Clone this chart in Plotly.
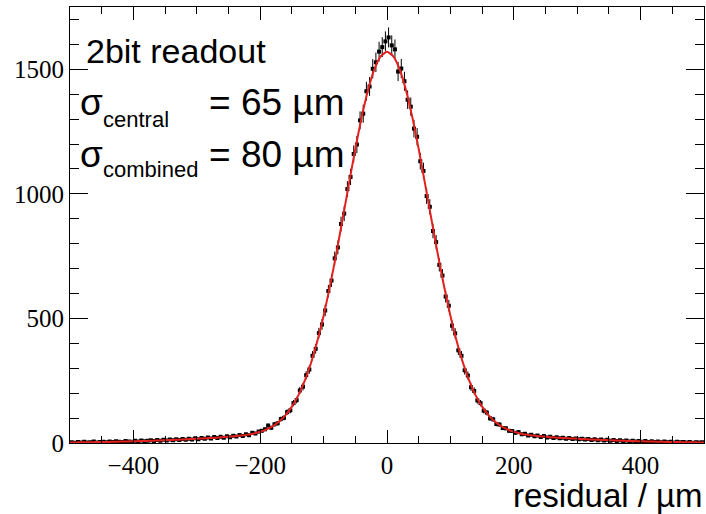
import numpy as np
import plotly.graph_objects as go

# ---------------- data ----------------
BIN_LOW = -500.0
BIN_WIDTH = 5.0

# histogram counts, bins of 5 um from -500 to 500 (200 bins)
counts_neg = [
    3, 1, 4, 2, 5, 2, 3, 6, 2, 4, 5, 3, 6, 4, 7, 5, 4, 8, 6, 5,
    9, 6, 10, 7, 9, 11, 8, 12, 9, 13, 10, 14, 11, 15, 12, 16, 13, 17, 14, 19,
    15, 20, 17, 22, 18, 24, 20, 25, 21, 27, 23, 29, 26, 32, 28, 35, 31, 41, 38, 46,
    49, 55, 70, 61, 75, 79, 96, 101, 124, 131, 160, 172, 211, 226, 272, 295, 350, 378, 441, 476,
    532, 610, 652, 741, 785, 879, 921, 1019, 1068, 1160, 1198, 1295, 1322, 1412, 1431, 1502, 1528, 1571, 1589, 1612,
]
counts_pos = [
    1628, 1596, 1580, 1491, 1503, 1452, 1378, 1350, 1262, 1229, 1131, 1092, 991, 948, 851, 806, 715, 672, 588, 551,
    471, 440, 372, 350, 292, 271, 224, 209, 171, 160, 130, 122, 99, 95, 76, 74, 60, 59, 49, 48,
    41, 44, 35, 37, 30, 33, 27, 30, 24, 28, 22, 25, 20, 23, 19, 21, 17, 20, 16, 18,
    15, 17, 14, 16, 12, 15, 11, 14, 10, 13, 9, 12, 8, 11, 7, 10, 6, 9, 6, 8,
    5, 8, 4, 7, 4, 6, 3, 6, 3, 5, 2, 5, 3, 4, 2, 4, 1, 3, 2, 3,
]
counts = counts_neg + counts_pos

# fitted curve, sampled every 10 um from -500 to 500
FIT_LOW = -500.0
FIT_STEP = 10.0
fit_half = [
    2.2, 2.5, 2.8, 3.2, 3.6, 4.1, 4.5, 5.1, 5.6, 6.3,
    7.0, 7.7, 8.5, 9.3, 10.2, 11.2, 12.2, 13.3, 14.4, 15.6,
    16.9, 18.3, 19.7, 21.3, 23.0, 24.9, 27.2, 30.0, 33.6, 38.5,
    45, 55, 68, 86, 112, 146, 190, 248, 320, 408,
    511, 629, 760, 899, 1041, 1180, 1307, 1416, 1500, 1552,
]
fit_peak = [1570]
fit_values = fit_half + fit_peak + fit_half[::-1]

x_ticks = [-400, -200, 0, 200, 400]
y_ticks = [0, 500, 1000, 1500]

# ---------------- geometry ----------------
W, H = 706, 514
ML, MR, MT, MB = 70, 2, 7, 71
PW, PH = W - ML - MR, H - MT - MB


def px_x(px):
    return (px - ML) / PW


def px_y(py):
    return (H - MB - py) / PH


bin_centers = BIN_LOW + BIN_WIDTH * (np.arange(len(counts)) + 0.5)
fit_x = FIT_LOW + FIT_STEP * np.arange(len(fit_values))
cnt = np.array(counts, dtype=float)

fig = go.Figure()

fig.add_trace(go.Scatter(
    x=bin_centers, y=cnt, mode="markers",
    marker=dict(symbol="square", size=4, color="black"),
    error_y=dict(type="data", array=np.sqrt(cnt), color="black", thickness=1, width=0),
    error_x=dict(type="constant", value=BIN_WIDTH / 2, color="black", thickness=1, width=0),
    showlegend=False, hoverinfo="skip",
))

fig.add_trace(go.Scatter(
    x=fit_x, y=fit_values, mode="lines",
    line=dict(color="#e3211f", width=2, shape="spline", smoothing=0.6),
    showlegend=False, hoverinfo="skip",
))

tick_font = dict(family="Liberation Serif", size=25, color="black")

fig.update_layout(
    width=W, height=H,
    margin=dict(l=ML, r=MR, t=MT, b=MB, pad=0),
    paper_bgcolor="white", plot_bgcolor="white",
    xaxis=dict(
        range=[-500, 500], tickvals=x_ticks, ticks="inside", ticklen=13, tickwidth=1,
        tickcolor="black", showline=True, linecolor="black", linewidth=1, mirror="ticks",
        showgrid=False, zeroline=False, tickfont=tick_font,
        minor=dict(dtick=50, tick0=0, ticks="inside", ticklen=7, tickcolor="black", tickwidth=1, showgrid=False),
    ),
    yaxis=dict(
        range=[0, 1750], tickvals=y_ticks, ticks="inside", ticklen=18, tickwidth=1,
        tickcolor="black", showline=True, linecolor="black", linewidth=1, mirror="ticks",
        showgrid=False, zeroline=False, tickfont=tick_font,
        minor=dict(dtick=100, tick0=0, ticks="inside", ticklen=9, tickcolor="black", tickwidth=1, showgrid=False),
    ),
)

sans = "Liberation Sans"


def add_text(text, left_px, baseline_px, size, xanchor="left"):
    center = baseline_px - 0.3465 * size
    fig.add_annotation(
        text=text, xref="paper", yref="paper",
        x=px_x(left_px), y=px_y(center), xanchor=xanchor, yanchor="middle",
        showarrow=False, font=dict(family=sans, size=size, color="black"),
        borderpad=0,
    )


add_text("2bit readout", 85, 63, 34)
add_text("σ", 79, 115, 37)
add_text("central", 102, 127, 22)
add_text("= 65 µm", 208, 115, 37)
add_text("σ", 79, 167, 37)
add_text("combined", 102, 177.5, 22)
add_text("= 80 µm", 208, 167, 37)
add_text("residual / µm", 704, 506.5, 33, xanchor="right")

fig.write_html(
    "out.html",
    config={"displayModeBar": False},
    post_script="document.body.style.margin='0';document.body.style.overflow='hidden';",
)
